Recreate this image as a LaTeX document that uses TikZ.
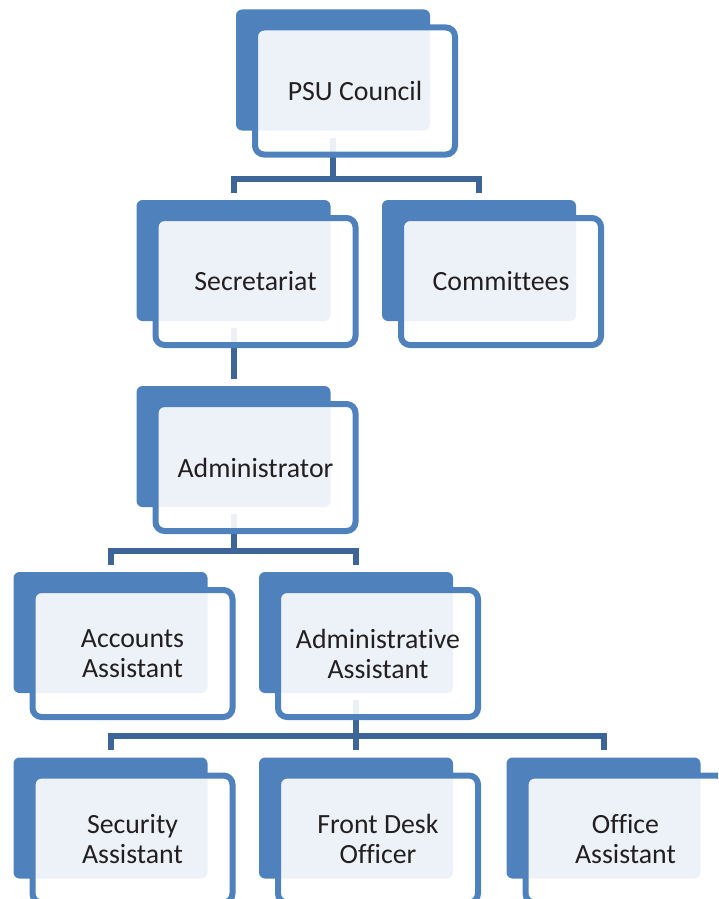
\documentclass[tikz,border=0pt]{standalone}
\usepackage{fontspec}
\setmainfont{Carlito}[Ligatures={NoCommon}]
\usepackage{tikz}
\usetikzlibrary{positioning}
\definecolor{unitblue}{HTML}{4F81BD}
\definecolor{linkblue}{HTML}{3E6597}
\definecolor{unittext}{HTML}{231F20}
\tikzset{
	unitback/.style={rectangle,rounded corners=6pt,fill=unitblue,minimum width=194pt,minimum height=121pt,inner sep=0pt},
	unitfront/.style={rectangle,rounded corners=9pt,draw=unitblue,line width=6pt,fill=white,fill opacity=0.9,text opacity=1,
		minimum width=200pt,minimum height=127pt,inner sep=0pt,align=center,text=unittext,
		font=\fontsize{27.8}{30}\selectfont,xshift=22pt,yshift=-21pt},
	link/.style={draw=linkblue,line width=6pt,shorten <=7pt}
}
\begin{document}
\begin{tikzpicture}[x=1pt,y=-1pt]
	\clip (0,0) rectangle (718,899);
	% back boxes
	\node[unitback] (psuback) at (333,70) {};
	\node[unitback] (secback) at (233.5,260.5) {};
	\node[unitback] (comback) at (479,260.5) {};
	\node[unitback] (adminback) at (233.5,446.5) {};
	\node[unitback] (accback) at (110.5,632.5) {};
	\node[unitback] (aaback) at (356,632.5) {};
	\node[unitback] (secuback) at (110.5,818) {};
	\node[unitback] (fdback) at (356,818) {};
	\node[unitback] (offback) at (603.5,818) {};
	
	% connectors
	\draw[link] (psuback.south) |- ([yshift=21pt]secback.north) -- ([yshift=7pt]secback.north);
	\draw[link] (psuback.south) |- ([yshift=21pt]comback.north) -- ([yshift=7pt]comback.north);
	\draw[link] (secback.south) -- ([yshift=7pt]adminback.north);
	\draw[link] (adminback.south) |- ([yshift=21pt]accback.north) -- ([yshift=7pt]accback.north);
	\draw[link] (adminback.south) |- ([yshift=21pt]aaback.north) -- ([yshift=7pt]aaback.north);
	\draw[link] (aaback.south) |- ([yshift=21pt]secuback.north) -- ([yshift=7pt]secuback.north);
	\draw[link] (aaback.south) -- ([yshift=7pt]fdback.north);
	\draw[link] (aaback.south) |- ([yshift=21pt]offback.north) -- ([yshift=7pt]offback.north);
	
	% front boxes
	\node[unitfront] (psu) at (psuback) {PSU Council};
	\node[unitfront] (sec) at (secback) {Secretariat};
	\node[unitfront] (com) at (comback) {Committees};
	\node[unitfront] (admin) at (adminback) {Administrator};
	\node[unitfront] (acc) at (accback) {Accounts\\Assistant};
	\node[unitfront] (aa) at (aaback) {Administrative\\Assistant};
	\node[unitfront] (secu) at (secuback) {Security\\Assistant};
	\node[unitfront] (fd) at (fdback) {Front Desk\\Officer};
	\node[unitfront] (off) at (offback) {Office\\Assistant};
\end{tikzpicture}
\end{document}
